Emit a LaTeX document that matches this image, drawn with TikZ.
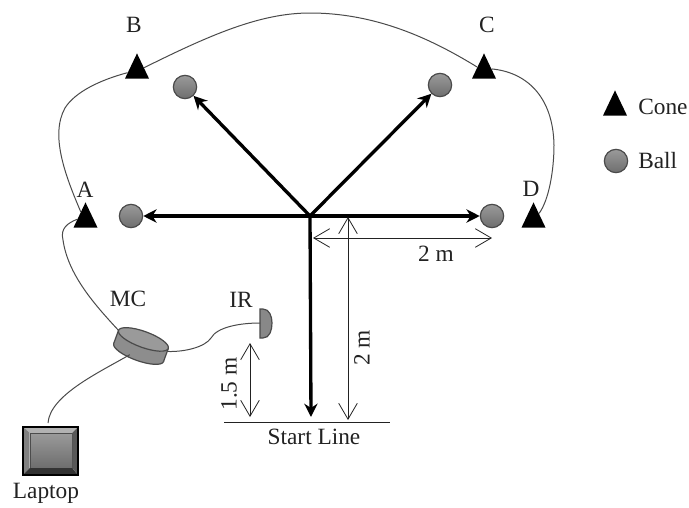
\documentclass[tikz,border=0pt]{standalone}
\usepackage{fontspec}
\setmainfont{Liberation Serif}
\usepackage{tikz}
\usetikzlibrary{arrows.meta,shapes.geometric}
\definecolor{wiregray}{HTML}{4A4A4A}
\definecolor{inkgray}{HTML}{222222}
\definecolor{balltop}{HTML}{9A9A9A}
\definecolor{ballbot}{HTML}{6E6E6E}
\tikzset{
  conept/.style={isosceles triangle,isosceles triangle apex angle=51,shape border rotate=90,
    fill=black,inner sep=0pt,minimum height=18.75pt,minimum width=18pt},
  ballpt/.style={circle,draw=wiregray,line width=0.9pt,top color=balltop,bottom color=ballbot,
    inner sep=0pt,minimum size=17.5pt},
  wire/.style={wiregray,line width=0.75pt},
  throw/.style={black,line width=2.5pt,-{Stealth[length=10pt,width=10pt]}},
  dimline/.style={inkgray,line width=0.6pt,{Straight Barb[length=12pt,width=14pt]}-{Straight Barb[length=12pt,width=14pt]}},
  lbl/.style={font=\fontsize{17.5}{20}\selectfont,text=inkgray,inner sep=0pt}
}
\begin{document}
\begin{tikzpicture}[x=0.75pt,y=-0.75pt]
  \useasboundingbox (0,0) rectangle (689,507);
  \coordinate (origin) at (310,216);
  \coordinate (startmid) at (311,417);
  \coordinate (startL) at (224,422);
  \coordinate (startR) at (390,422);
  \foreach \nm/\cx/\cy in {coneA/85.5/220,coneB/137/71,coneC/484/71,coneD/533.5/220,coneKey/615/108} {
    \node[conept] (\nm) at (\cx,\cy) {};
  }
  \foreach \nm/\cx/\cy in {ballW/131/216,ballE/492/216,ballNW/185/87,ballNE/440/85,ballKey/616/161} {
    \node[ballpt] (\nm) at (\cx,\cy) {};
  }
  \draw[throw] (origin) -- (ballW);
  \draw[throw] (origin) -- (ballE);
  \draw[throw] (origin) -- (ballNW);
  \draw[throw] (origin) -- (ballNE);
  \draw[throw] (origin) -- (startmid);
  \draw[inkgray,line width=0.75pt] (startL) -- (startR);
  \coordinate (dimHa) at (313,238);
  \coordinate (dimHb) at (492,238);
  \coordinate (dimVa) at (348,217);
  \coordinate (dimVb) at (348,420);
  \coordinate (dimSa) at (250,343);
  \coordinate (dimSb) at (250,417);
  \draw[dimline] (dimHa) -- (dimHb);
  \draw[dimline] (dimVa) -- (dimVb);
  \draw[dimline] (dimSa) -- (dimSb);
  \begin{scope}[shift={(141,346)},rotate=-20]
    \coordinate (mcNW) at (-26.5,-7);
    \coordinate (mcE) at (27,-4);
    \coordinate (mcS) at (-7.6,12);
    \fill[balltop!70!ballbot] (0,7) ellipse (26.5 and 8);
    \draw[wiregray,line width=0.9pt] (0,7) ellipse (26.5 and 8);
    \fill[balltop!70!ballbot] (-26.5,-7) rectangle (26.5,7);
    \draw[wiregray,line width=0.9pt] (-26.5,-7) -- (-26.5,7) (26.5,-7) -- (26.5,7);
    \draw[wiregray,line width=0.9pt,fill=balltop] (0,-7) ellipse (26.5 and 8);
  \end{scope}
  \node[draw=black!70,line width=0.5pt,top color=balltop,bottom color=ballbot,inner sep=0pt,minimum width=31.5pt,minimum height=26pt] (laptop) at (51,450.5) {};
  \coordinate (lapTL) at (23,427);
  \coordinate (lapTR) at (78,427);
  \coordinate (lapBR) at (78,475);
  \coordinate (lapBL) at (23,475);
  \fill[black!30] (lapTL) -- (lapTR) -- (laptop.north east) -- (laptop.north west) -- cycle;
  \fill[black!50] (lapTL) -- (lapBL) -- (laptop.south west) -- (laptop.north west) -- cycle;
  \fill[black!80] (lapBL) -- (lapBR) -- (laptop.south east) -- (laptop.south west) -- cycle;
  \fill[black!65] (lapTR) -- (lapBR) -- (laptop.south east) -- (laptop.north east) -- cycle;
  \draw[black,line width=0.9pt] (lapTL) rectangle (lapBR);
  \coordinate (irmid) at (260,323);
  \draw[draw=wiregray,line width=0.9pt,fill=balltop!60!ballbot] (260,309) -- (263,309) to[out=0,in=90] (272,323) to[out=-90,in=0] (263,338) -- (260,338) -- cycle;
  \draw[wire] (coneA.175) .. controls (68,223) and (60,228) .. (63,240) .. controls (68,275) and (95,305) .. (mcNW);
  \draw[wire] (coneA.120) .. controls (65,175) and (50,135) .. (65,108) .. controls (75,92) and (100,80) .. (coneB.190);
  \draw[wire] (coneB.25) .. controls (210,35) and (260,13) .. (310,13) .. controls (375,13) and (430,38) .. (coneC.150);
  \draw[wire] (coneC.15) .. controls (525,72) and (553,95) .. (554,145) .. controls (554,170) and (549,200) .. (coneD.50);
  \draw[wire] (mcE) .. controls (185,352) and (205,347) .. (211,338) .. controls (217,327) and (240,323) .. (irmid);
  \draw[wire] (mcS) .. controls (100,372) and (50,395) .. (48,423);
  \node[lbl] (labA) at (85,190) {A};
  \node[lbl] (labB) at (134,25) {B};
  \node[lbl] (labC) at (487,25) {C};
  \node[lbl] (labD) at (531,189) {D};
  \node[lbl,anchor=west] (labCone) at (638,107) {Cone};
  \node[lbl,anchor=west] (labBall) at (638,161) {Ball};
  \node[lbl] (labH) at (436,254) {2 m};
  \node[lbl,rotate=90] (labV) at (362,348) {2 m};
  \node[lbl,rotate=90] (labS) at (229,384) {1.5 m};
  \node[lbl] (labMC) at (128,299) {MC};
  \node[lbl] (labIR) at (241,300) {IR};
  \node[lbl] (labLaptop) at (46,493) {Laptop};
  \node[lbl] (labStart) at (314,437) {Start Line};
\end{tikzpicture}
\end{document}
